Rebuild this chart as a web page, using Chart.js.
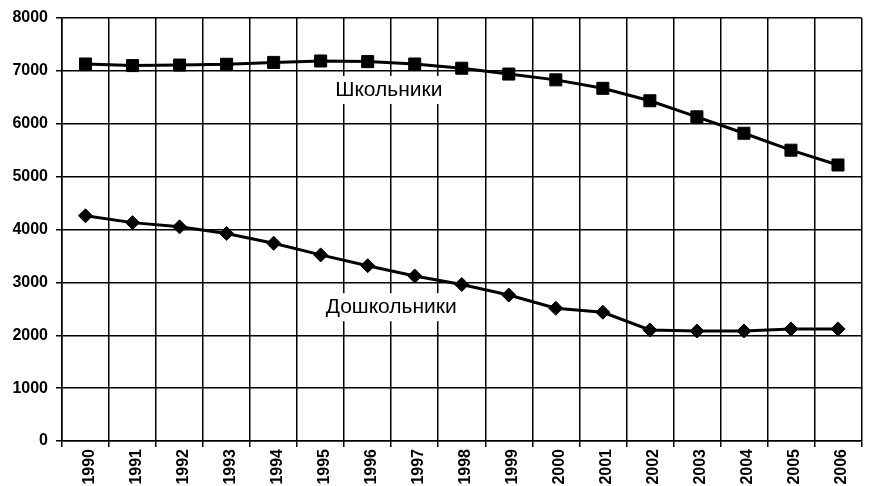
<!DOCTYPE html>
<html><head><meta charset="utf-8">
<script src="https://cdn.jsdelivr.net/npm/chart.js@4/dist/chart.umd.min.js"></script>
<style>html,body{margin:0;padding:0;background:#fff}#wrap{width:871px;height:486px}</style>
</head><body><div id="wrap"><canvas id="c" width="871" height="486"></canvas></div>
<script>
const years = ['1990','1991','1992','1993','1994','1995','1996','1997','1998','1999','2000','2001','2002','2003','2004','2005','2006'];
const schoolchildren = [7130, 7100, 7110, 7125, 7160, 7187, 7175, 7130, 7050, 6940, 6830, 6670, 6435, 6130, 5820, 5500, 5220];
const preschoolers = [4260, 4130, 4050, 3925, 3740, 3520, 3315, 3120, 2960, 2760, 2510, 2435, 2100, 2080, 2080, 2120, 2120];
const yTicks = [0, 1000, 2000, 3000, 4000, 5000, 6000, 7000, 8000];
const seriesNames = ['Школьники', 'Дошкольники'];

const labelPlugin = {
  id: 'seriesLabels',
  beforeDatasetsDraw(chart, args, opts) {
    const {ctx, scales: {x, y}} = chart;
    ctx.save();
    ctx.font = opts.font;
    ctx.textAlign = 'center';
    ctx.textBaseline = 'middle';
    opts.items.forEach(it => {
      const px = x.getPixelForValue(it.at);
      const py = y.getPixelForValue(it.value);
      const w = ctx.measureText(it.text).width;
      ctx.fillStyle = '#fff';
      ctx.fillRect(px - w / 2 - 5, py - 14, w + 10, 28);
      ctx.fillStyle = '#000';
      ctx.fillText(it.text, px, py);
    });
    ctx.restore();
  }
};

new Chart(document.getElementById('c'), {
  type: 'line',
  data: {
    labels: years,
    datasets: [
      {label: seriesNames[0], data: schoolchildren, borderColor: '#000', backgroundColor: '#000',
       borderWidth: 3, pointStyle: 'rect', pointRadius: 8.5, pointBorderWidth: 1, tension: 0},
      {label: seriesNames[1], data: preschoolers, borderColor: '#000', backgroundColor: '#000',
       borderWidth: 3, pointStyle: 'rectRot', pointRadius: 7, pointBorderWidth: 1, tension: 0}
    ]
  },
  options: {
    responsive: false,
    devicePixelRatio: 1,
    animation: false,
    layout: {padding: {top: 18, right: 2, left: 0, bottom: 0}},
    plugins: {
      legend: {display: false},
      tooltip: {enabled: false},
      seriesLabels: {
        font: '21px "Liberation Sans", Arial, sans-serif',
        items: [
          {text: seriesNames[0], at: 6.45, value: 6640},
          {text: seriesNames[1], at: 6.5, value: 2530}
        ]
      }
    },
    scales: {
      x: {
        offset: true,
        grid: {offset: true, color: '#000', lineWidth: 1.5, tickLength: 6, drawTicks: true},
        border: {color: '#000', width: 1.5},
        ticks: {color: '#000', font: {family: '"Liberation Sans", Arial, sans-serif', size: 16, weight: 'bold'},
                maxRotation: 90, minRotation: 90, padding: 2, autoSkip: false, labelOffset: 4},
        afterFit(scale) { scale.height = 45; }
      },
      y: {
        min: 0, max: 8000,
        afterBuildTicks(scale) { scale.ticks = yTicks.map(v => ({value: v})); },
        grid: {color: '#000', lineWidth: 1.5, tickLength: 6},
        border: {color: '#000', width: 1.5},
        ticks: {color: '#000', font: {family: '"Liberation Sans", Arial, sans-serif', size: 16, weight: 'bold'}, padding: 8,
                callback: v => String(v)},
        afterFit(scale) { scale.width = 62; }
      }
    }
  },
  plugins: [labelPlugin]
});
</script></body></html>
